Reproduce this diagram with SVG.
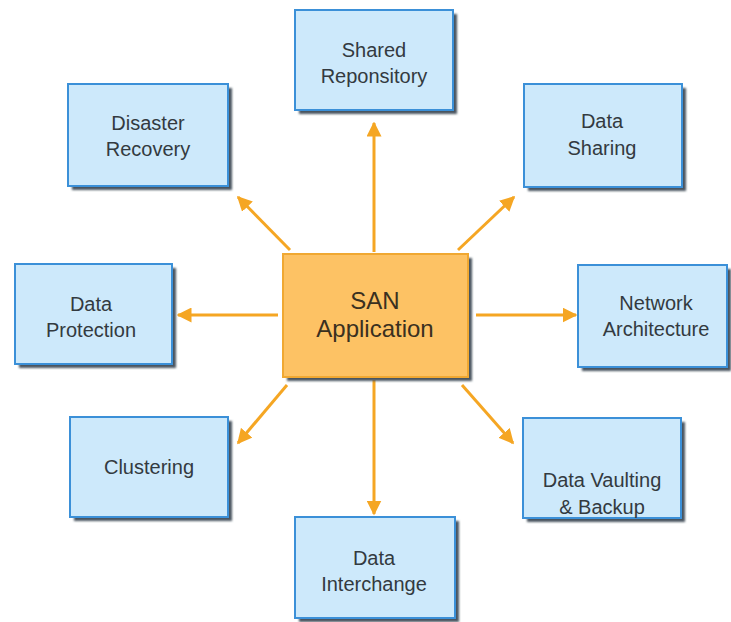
<svg xmlns="http://www.w3.org/2000/svg" width="731" height="622" viewBox="0 0 731 622">
  <defs>
    <marker id="head" viewBox="0 0 10 10" refX="9" refY="5" markerWidth="5" markerHeight="5" orient="auto" markerUnits="strokeWidth">
      <path d="M0,0 L10,5 L0,10 Z" fill="#f5a623"/>
    </marker>
    <filter id="soft" x="-10%" y="-10%" width="130%" height="130%">
      <feGaussianBlur stdDeviation="1"/>
    </filter>
  </defs>
  <style>
    .shadow { fill: #4a5560; filter: url(#soft); }
    .box { fill: #cde9fb; stroke: #3b90d8; stroke-width: 2; }
    .core { fill: #fdc264; stroke: #f0a832; stroke-width: 2; }
    .lbl { font-family: "Liberation Sans", Arial, sans-serif; font-size: 20px; fill: #333a40; text-anchor: middle; }
    .big { font-size: 24px; fill: #3a3020; }
    .link { stroke: #f5a623; stroke-width: 3; fill: none; marker-end: url(#head); }
  </style>
  <rect width="731" height="622" fill="#ffffff"/>

  <!-- connectors from the hub to each topic -->
  <g id="connectors">
    <line class="link" x1="374" y1="252" x2="374" y2="123"/>
    <line class="link" x1="290" y1="250" x2="238" y2="197"/>
    <line class="link" x1="458" y1="250" x2="514" y2="197"/>
    <line class="link" x1="278" y1="315" x2="178" y2="315"/>
    <line class="link" x1="476" y1="315" x2="576" y2="315"/>
    <line class="link" x1="287" y1="385" x2="238" y2="443"/>
    <line class="link" x1="462" y1="385" x2="513" y2="443"/>
    <line class="link" x1="374" y1="380" x2="374" y2="514"/>
  </g>

  <g id="san-application">
    <rect class="shadow" x="287" y="258" width="185" height="123"/>
    <rect class="core" x="283" y="254" width="185" height="123"/>
    <text class="lbl big" x="375" y="309">SAN</text>
    <text class="lbl big" x="375" y="337">Application</text>
  </g>

  <g id="shared-repository">
    <rect class="shadow" x="299" y="14" width="158" height="100"/>
    <rect class="box" x="295" y="10" width="158" height="100"/>
    <text class="lbl" x="374" y="57">Shared</text>
    <text class="lbl" x="374" y="83">Reponsitory</text>
  </g>

  <g id="disaster-recovery">
    <rect class="shadow" x="72" y="88" width="160" height="102"/>
    <rect class="box" x="68" y="84" width="160" height="102"/>
    <text class="lbl" x="148" y="130">Disaster</text>
    <text class="lbl" x="148" y="156">Recovery</text>
  </g>

  <g id="data-sharing">
    <rect class="shadow" x="528" y="88" width="158" height="103"/>
    <rect class="box" x="524" y="84" width="158" height="103"/>
    <text class="lbl" x="602" y="128">Data</text>
    <text class="lbl" x="602" y="155">Sharing</text>
  </g>

  <g id="data-protection">
    <rect class="shadow" x="19" y="268" width="157" height="100"/>
    <rect class="box" x="15" y="264" width="157" height="100"/>
    <text class="lbl" x="91" y="311">Data</text>
    <text class="lbl" x="91" y="337">Protection</text>
  </g>

  <g id="network-architecture">
    <rect class="shadow" x="582" y="269" width="149" height="102"/>
    <rect class="box" x="578" y="265" width="149" height="102"/>
    <text class="lbl" x="656" y="310">Network</text>
    <text class="lbl" x="656" y="336">Architecture</text>
  </g>

  <g id="clustering">
    <rect class="shadow" x="74" y="421" width="158" height="100"/>
    <rect class="box" x="70" y="417" width="158" height="100"/>
    <text class="lbl" x="149" y="474">Clustering</text>
  </g>

  <g id="data-vaulting-backup">
    <rect class="shadow" x="527" y="422" width="158" height="100"/>
    <rect class="box" x="523" y="418" width="158" height="100"/>
    <text class="lbl" x="602" y="487">Data Vaulting</text>
    <text class="lbl" x="602" y="514">&amp; Backup</text>
  </g>

  <g id="data-interchange">
    <rect class="shadow" x="299" y="521" width="160" height="101"/>
    <rect class="box" x="295" y="517" width="160" height="101"/>
    <text class="lbl" x="374" y="565">Data</text>
    <text class="lbl" x="374" y="591">Interchange</text>
  </g>
</svg>
